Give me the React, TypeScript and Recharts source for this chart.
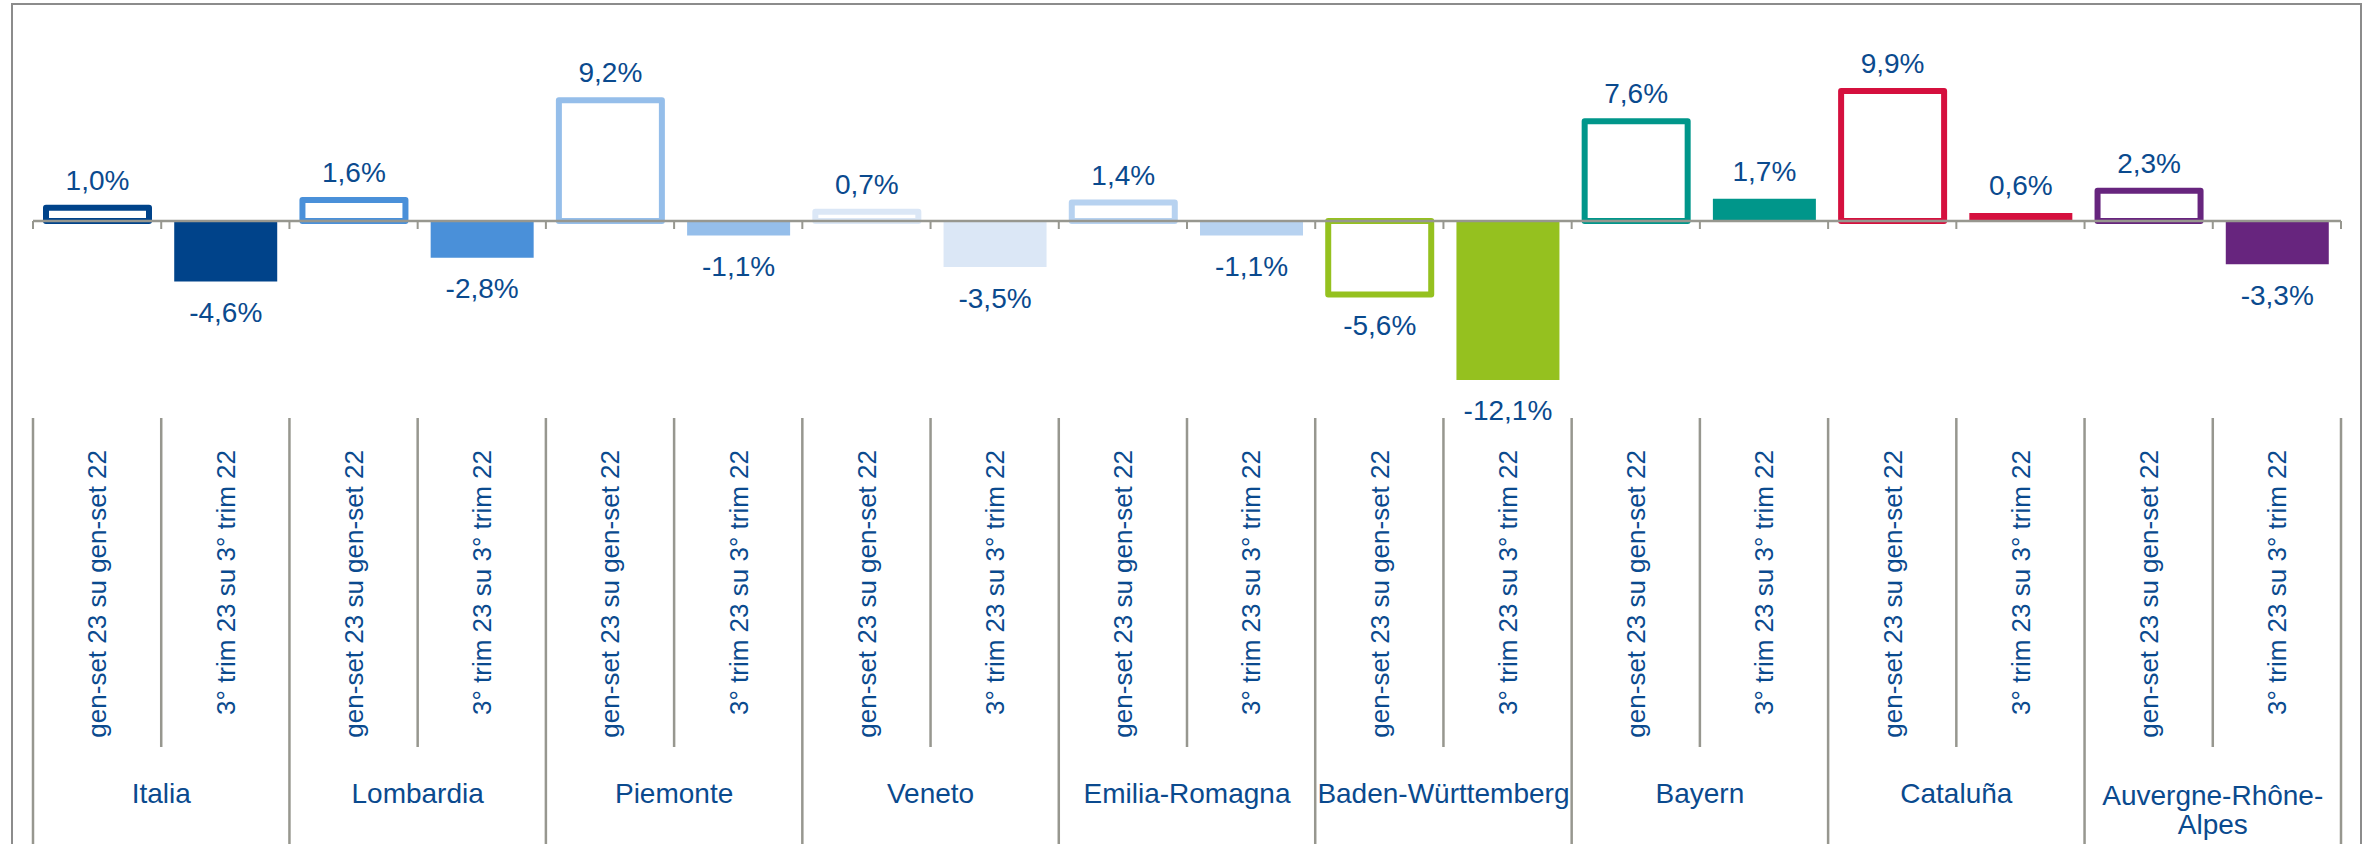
import React from 'react';
import { BarChart, Bar, XAxis, YAxis, Cell, LabelList, ReferenceLine } from 'recharts';

const regions = [
  'Italia',
  'Lombardia',
  'Piemonte',
  'Veneto',
  'Emilia-Romagna',
  'Baden-Württemberg',
  'Bayern',
  'Cataluña',
  'Auvergne-Rhône-Alpes',
];
// how each region name is wrapped under the axis
const regionLabelLines = [
  ['Italia'],
  ['Lombardia'],
  ['Piemonte'],
  ['Veneto'],
  ['Emilia-Romagna'],
  ['Baden-Württemberg'],
  ['Bayern'],
  ['Cataluña'],
  ['Auvergne-Rhône-', 'Alpes'],
];
const periods = ['gen-set 23 su gen-set 22', '3° trim 23 su 3° trim 22'];
const genSetValues = [1.0, 1.6, 9.2, 0.7, 1.4, -5.6, 7.6, 9.9, 2.3];
const trimValues = [-4.6, -2.8, -1.1, -3.5, -1.1, -12.1, 1.7, 0.6, -3.3];
const regionColors = [
  '#00438a',
  '#4a90d9',
  '#95beea',
  '#dbe7f6',
  '#b7d2f0',
  '#95c11f',
  '#00968a',
  '#d5103e',
  '#67257e',
];

const TEXT = '#0a4a8e';
const GRID = '#97978f';
const FONT = '"Liberation Sans", Arial, sans-serif';

const data = regions.flatMap((region, i) => [
  { key: `${region}-0`, region: i, period: periods[0], value: genSetValues[i], color: regionColors[i], hollow: true },
  { key: `${region}-1`, region: i, period: periods[1], value: trimValues[i], color: regionColors[i], hollow: false },
]);

const fmt = (v: number) => `${v.toFixed(1).replace('.', ',')}%`;

const ValueLabel = (props: any) => {
  const { x, y, width, height, value } = props;
  const top = Math.min(y, y + height);
  const bottom = Math.max(y, y + height);
  const ty = value >= 0 ? top - 28 : bottom + 30.5;
  return (
    <text x={x + width / 2} y={ty} dy="0.36em" textAnchor="middle" fill={TEXT} fontSize={28} fontFamily={FONT}>
      {fmt(value)}
    </text>
  );
};

const CategoryTick = (props: any) => {
  const { x, y, index, payload } = props;
  const row = data[index];
  if (!row) return null;
  const half = payload?.offset || props.width / data.length / 2;
  const isFirst = index % 2 === 0;
  const isLast = index === data.length - 1;
  const lines = regionLabelLines[row.region];
  return (
    <g>
      <line x1={x - half} x2={x - half} y1={y} y2={isFirst ? y + 426 : y + 329} stroke={GRID} strokeWidth={2.5} />
      {isLast && <line x1={x + half} x2={x + half} y1={y} y2={y + 426} stroke={GRID} strokeWidth={2.5} />}
      <text
        x={x}
        y={y + 32}
        dy="0.36em"
        textAnchor="end"
        transform={`rotate(-90, ${x}, ${y + 32})`}
        fill={TEXT}
        fontSize={26}
        fontFamily={FONT}
      >
        {row.period}
      </text>
      {!isFirst && (
        <text x={x - half} y={lines.length > 1 ? y + 387 : y + 385} textAnchor="middle" fill={TEXT} fontSize={28} fontFamily={FONT}>
          {lines.map((l, k) => (
            <tspan key={k} x={x - half} dy={k === 0 ? 0 : 29}>
              {l}
            </tspan>
          ))}
        </text>
      )}
    </g>
  );
};

const ZeroAxis = (props: any) => {
  const { x1, x2, y1 } = props;
  const n = data.length;
  const step = (x2 - x1) / n;
  return (
    <g>
      <line x1={x1} x2={x2} y1={y1} y2={y1} stroke={GRID} strokeWidth={2.5} />
      {data.concat([data[0]]).map((_, i) => (
        <line key={i} x1={x1 + i * step} x2={x1 + i * step} y1={y1} y2={y1 + 8} stroke={GRID} strokeWidth={2} />
      ))}
    </g>
  );
};

export default function App() {
  return (
    <div style={{ position: 'relative', width: 2369, height: 844, overflow: 'hidden', background: '#fff' }}>
      <style>{'body{margin:0}'}</style>
      <BarChart width={2369} height={844} data={data} margin={{ top: 24, right: 28, bottom: 0, left: 33 }} barSize={103}>
        <YAxis hide domain={[-15, 15]} allowDataOverflow />
        <XAxis
          dataKey="key"
          interval={0}
          height={426}
          axisLine={false}
          tickLine={false}
          tickSize={0}
          tickMargin={0}
          tick={<CategoryTick />}
        />
        <Bar dataKey="value" isAnimationActive={false}>
          {data.map((d) => (
            <Cell
              key={d.key}
              fill={d.hollow ? '#ffffff' : d.color}
              stroke={d.hollow ? d.color : 'none'}
              strokeWidth={d.hollow ? 6 : 0}
              strokeLinejoin="round"
            />
          ))}
          <LabelList dataKey="value" content={<ValueLabel />} />
        </Bar>
        <ReferenceLine y={0} shape={<ZeroAxis />} />
      </BarChart>
      <div
        style={{
          position: 'absolute',
          left: 11,
          top: 3,
          width: 2347,
          height: 900,
          border: '2.5px solid #8c8c8c',
          pointerEvents: 'none',
        }}
      />
    </div>
  );
}
